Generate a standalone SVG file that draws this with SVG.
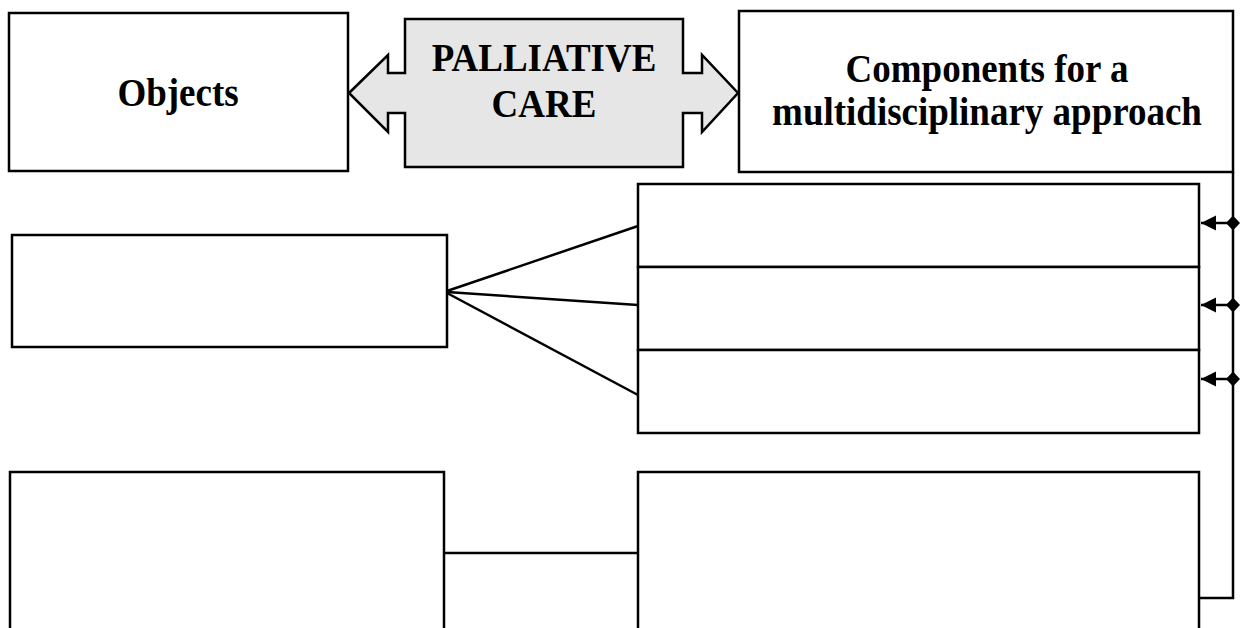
<svg xmlns="http://www.w3.org/2000/svg" width="1240" height="628" viewBox="0 0 1240 628">
  <style>
    .box { fill: #ffffff; stroke: #000000; stroke-width: 2.5; }
    .hub { fill: #e6e6e6; stroke: #000000; stroke-width: 2.5; stroke-linejoin: miter; }
    .link { fill: none; stroke: #000000; stroke-width: 2.5; }
    .label { font-family: "Liberation Serif", "Times New Roman", serif; font-weight: bold; font-size: 37px; fill: #000000; text-anchor: middle; }
  </style>
  <defs>
    <!-- filled arrowhead; path runs toward the tip -->
    <marker id="tip" markerWidth="18" markerHeight="18" refX="16" refY="9" orient="auto" markerUnits="userSpaceOnUse">
      <path d="M1,1.5 L16,9 L1,16.5 Z" fill="#000000"/>
    </marker>
    <!-- filled diamond at the junction on the bus line -->
    <marker id="knob" markerWidth="16" markerHeight="18" refX="8" refY="9" orient="auto" markerUnits="userSpaceOnUse">
      <path d="M1,9 L8,1.5 L15,9 L8,16.5 Z" fill="#000000"/>
    </marker>
  </defs>

  <!-- header row -->
  <g id="objects">
    <rect class="box" x="9" y="13" width="339" height="158"/>
    <text class="label" transform="translate(178,106) scale(1,1.1)">Objects</text>
  </g>

  <g id="palliative-care">
    <path class="hub" d="M349,93 L388,55 L388,73 L405,73 L405,19 L683,19 L683,73 L702,73 L702,55 L738,93 L702,132 L702,113 L683,113 L683,167 L405,167 L405,113 L388,113 L388,132 Z"/>
    <text class="label" transform="translate(544,71) scale(1,1.1)">PALLIATIVE</text>
    <text class="label" transform="translate(544,117) scale(1,1.1)">CARE</text>
  </g>

  <g id="components">
    <rect class="box" x="739" y="11" width="494" height="161"/>
    <text class="label" transform="translate(987,82) scale(1,1.1)">Components for a</text>
    <text class="label" transform="translate(987,125) scale(1,1.1)">multidisciplinary approach</text>
  </g>

  <!-- second row -->
  <g id="left-middle">
    <rect class="box" x="12" y="235" width="435" height="112"/>
  </g>

  <g id="stack-1">
    <rect class="box" x="638" y="184" width="561" height="83"/>
  </g>
  <g id="stack-2">
    <rect class="box" x="638" y="267" width="561" height="83"/>
  </g>
  <g id="stack-3">
    <rect class="box" x="638" y="350" width="561" height="83"/>
  </g>

  <!-- bottom row -->
  <g id="left-bottom">
    <rect class="box" x="10" y="472" width="434" height="170"/>
  </g>
  <g id="right-bottom">
    <rect class="box" x="638" y="472" width="561" height="170"/>
  </g>

  <!-- connectors -->
  <g id="connectors">
    <path class="link" d="M447,291 L638,226"/>
    <path class="link" d="M447,292 L638,305"/>
    <path class="link" d="M447,293 L638,395"/>
    <path class="link" d="M444,553 L638,553"/>
    <path class="link" d="M1233,172 L1233,598 L1199,598"/>
    <path class="link" d="M1233,223 L1201,223" marker-start="url(#knob)" marker-end="url(#tip)"/>
    <path class="link" d="M1233,305 L1201,305" marker-start="url(#knob)" marker-end="url(#tip)"/>
    <path class="link" d="M1233,379 L1201,379" marker-start="url(#knob)" marker-end="url(#tip)"/>
  </g>
</svg>
